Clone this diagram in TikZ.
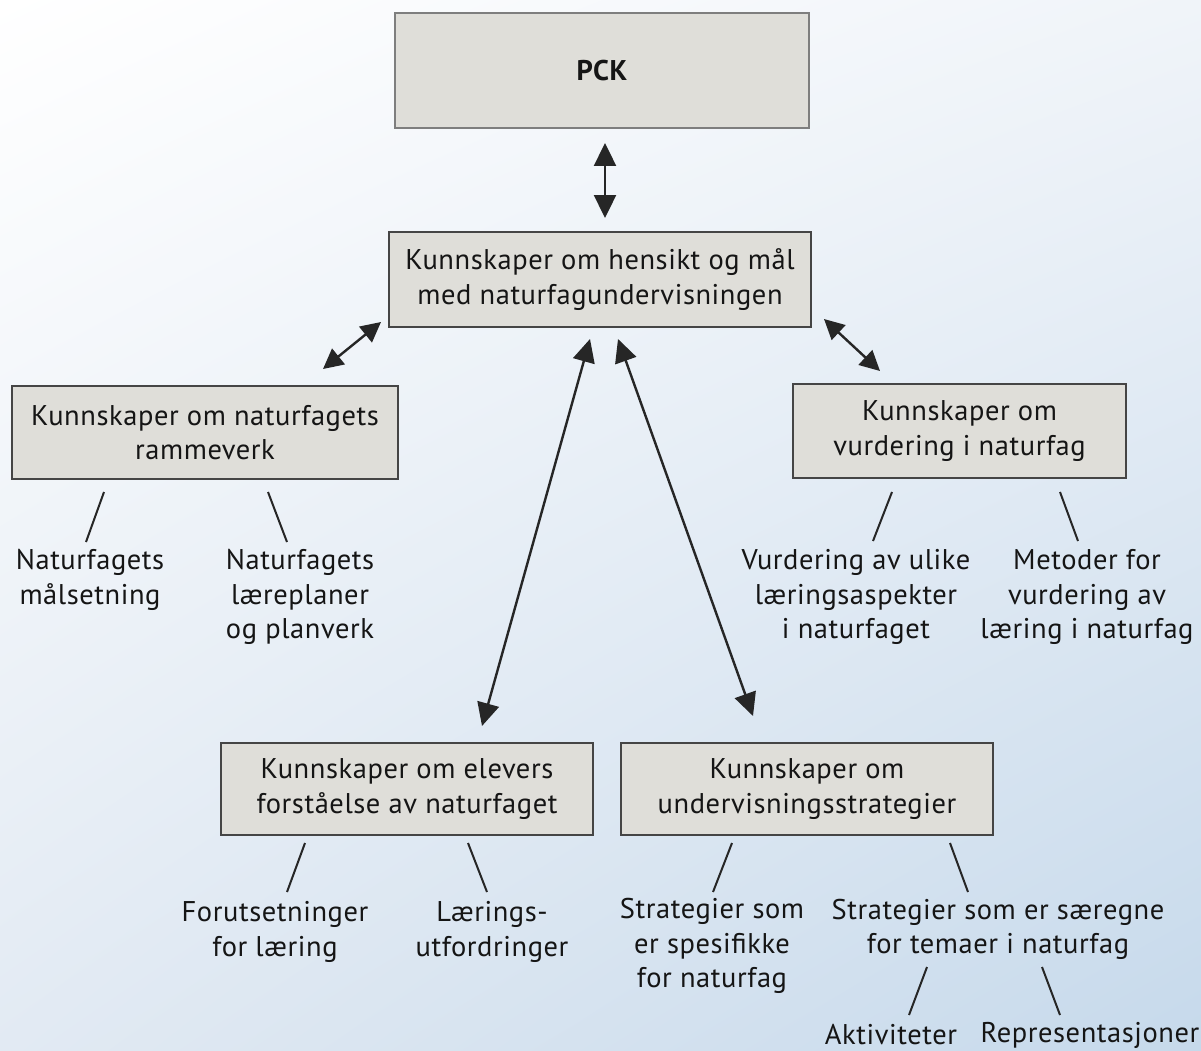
\documentclass[tikz,border=0pt]{standalone}
\usepackage{fontspec}
\setmainfont{PT Sans}[LetterSpace=2.0]
\usetikzlibrary{arrows.meta,shadings}
\definecolor{boxfill}{HTML}{DFDED9}
\definecolor{boxline}{HTML}{454545}
\definecolor{pckline}{HTML}{7E7E7E}
\definecolor{txt}{HTML}{151515}
\definecolor{bgA}{HTML}{FFFFFF}
\definecolor{bgB}{HTML}{F0F4F9}
\definecolor{bgC}{HTML}{E2EAF3}
\definecolor{bgD}{HTML}{C6D9EB}
\begin{document}
\begin{tikzpicture}[x=1pt,y=-1pt,
  every node/.style={text=txt},
  kbox/.style={draw=boxline, fill=boxfill, line width=2.8pt, inner sep=0pt, align=center,
     font=\fontsize{28.5}{34.5}\selectfont},
  leaf/.style={inner sep=0pt, align=center, font=\fontsize{28.5}{34.5}\selectfont},
  dbl/.style={line width=2.4pt, draw=black!85, {Triangle[length=23pt,width=22pt]}-{Triangle[length=23pt,width=22pt]}},
  dblsmall/.style={line width=2.4pt, draw=black!85, {Triangle[length=20pt,width=20pt]}-{Triangle[length=20pt,width=20pt]}},
  branch/.style={line width=2pt, draw=black!85}
]
\useasboundingbox (0,0) rectangle (1201,1051);
\shade[upper left=bgA, upper right=bgB, lower left=bgC, lower right=bgD] (0,0) rectangle (1201,1051);

% boxes
\node[kbox, draw=pckline, minimum width=414pt, minimum height=115pt, font=\fontsize{28.5}{34.5}\selectfont\bfseries] (pck) at (602,70.5) {PCK};
\node[kbox, minimum width=422pt, minimum height=95pt] (main) at (600,279.5) {Kunnskaper om hensikt og mål\\med naturfagundervisningen};
\node[kbox, minimum width=386pt, minimum height=93pt] (ramme) at (205,432.5) {Kunnskaper om naturfagets\\rammeverk};
\node[kbox, minimum width=333pt, minimum height=94pt] (vurd) at (959.5,431) {Kunnskaper om\\vurdering i naturfag};
\node[kbox, minimum width=372pt, minimum height=92pt] (elev) at (407,789) {Kunnskaper om elevers\\forståelse av naturfaget};
\node[kbox, minimum width=372pt, minimum height=92pt] (strat) at (807,789) {Kunnskaper om\\undervisningsstrategier};

% leaves
\node[leaf] (maal) at (90,580) {Naturfagets\\målsetning};
\node[leaf] (laere) at (300,597) {Naturfagets\\læreplaner\\og planverk};
\node[leaf] (ulike) at (856,597) {Vurdering av ulike\\læringsaspekter\\i naturfaget};
\node[leaf] (metoder) at (1087,597) {Metoder for\\vurdering av\\læring i naturfag};
\node[leaf] (forut) at (275,932) {Forutsetninger\\for læring};
\node[leaf] (utford) at (492,932) {Lærings-\\utfordringer};
\node[leaf] (spes) at (712,946) {Strategier som\\er spesifikke\\for naturfag};
\node[leaf] (saer) at (998,929.5) {Strategier som er særegne\\for temaer i naturfag};
\node[leaf] (akt) at (891,1035) {Aktiviteter};
\node[leaf] (repr) at (1090,1035) {Representasjoner};

% arrow end points
\coordinate (pckA) at (605,143);
\coordinate (mainA) at (605,218);
\coordinate (mainL) at (381,322);
\coordinate (rammeA) at (323,369);
\coordinate (mainR) at (824,319);
\coordinate (vurdA) at (880,371);
\coordinate (mainCL) at (590,339);
\coordinate (elevA) at (482,726);
\coordinate (mainCR) at (618,339);
\coordinate (stratA) at (753,716);

\draw[dbl] (pckA) -- (mainA);
\draw[dblsmall] (rammeA) -- (mainL);
\draw[dblsmall] (mainR) -- (vurdA);
\draw[dbl] (mainCL) -- (elevA);
\draw[dbl] (mainCR) -- (stratA);

% branch lines
\coordinate (r1a) at (104,492); \coordinate (r1b) at (86,542);
\coordinate (r2a) at (268,492); \coordinate (r2b) at (287,542);
\coordinate (v1a) at (892,492); \coordinate (v1b) at (873,541);
\coordinate (v2a) at (1060,492); \coordinate (v2b) at (1078,541);
\coordinate (e1a) at (305,843); \coordinate (e1b) at (287,892);
\coordinate (e2a) at (468,843); \coordinate (e2b) at (487,892);
\coordinate (s1a) at (732,843); \coordinate (s1b) at (713,892);
\coordinate (s2a) at (950,843); \coordinate (s2b) at (968,892);
\coordinate (t1a) at (927,967); \coordinate (t1b) at (909,1015);
\coordinate (t2a) at (1042,967); \coordinate (t2b) at (1060,1015);

\draw[branch] (r1a) -- (r1b);
\draw[branch] (r2a) -- (r2b);
\draw[branch] (v1a) -- (v1b);
\draw[branch] (v2a) -- (v2b);
\draw[branch] (e1a) -- (e1b);
\draw[branch] (e2a) -- (e2b);
\draw[branch] (s1a) -- (s1b);
\draw[branch] (s2a) -- (s2b);
\draw[branch] (t1a) -- (t1b);
\draw[branch] (t2a) -- (t2b);
\end{tikzpicture}
\end{document}
